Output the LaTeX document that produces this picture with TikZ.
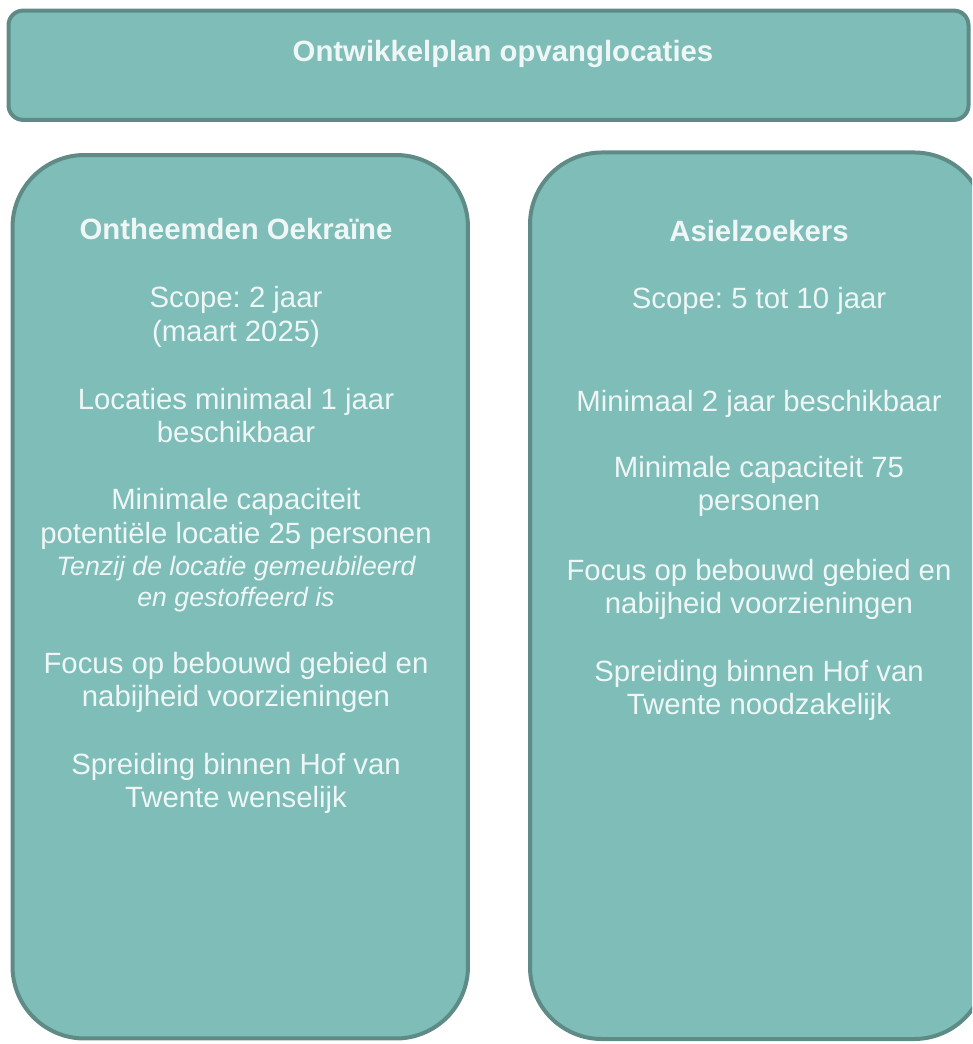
\documentclass[tikz,border=0pt]{standalone}
\usepackage{fontspec}
\setmainfont{Liberation Sans}
\usepackage{tikz}
\usetikzlibrary{positioning}
\frenchspacing
\definecolor{boxfill}{HTML}{7FBDB8}
\definecolor{boxline}{HTML}{5F8B87}
\definecolor{boxtext}{HTML}{EEF7F6}
\tikzset{
    plan box/.style={
        draw=boxline,line width=3pt,
        fill=boxfill,
        inner sep=0pt,outer sep=0pt
    },
    line text/.style={
        text=boxtext,anchor=base,inner sep=0pt,
        font=\fontsize{22}{26}\selectfont
    },
    head text/.style={line text,font=\fontsize{22}{26}\selectfont\bfseries},
    note text/.style={line text,font=\fontsize{20}{24}\selectfont\itshape}
}

\begin{document}
\begin{tikzpicture}[x=0.75pt,y=-0.75pt]
\useasboundingbox (0,0) rectangle (972,1044);
\clip (0,0) rectangle (972,1044);
\fill[white] (0,0) rectangle (972,1044);
\node[plan box,rounded corners=11pt,minimum width=720pt,minimum height=82pt] (plan) at (488.5,65.25) {};
\node[plan box,rounded corners=54pt,minimum width=341.6pt,minimum height=662.6pt] (oekraine) at (240.25,596.75) {};
\node[plan box,rounded corners=54pt,minimum width=342pt,minimum height=664.9pt] (asiel) at (758,595.75) {};
\node[head text] (plan_title) at (503,62) {Ontwikkelplan opvanglocaties};
% linker kolom
\node[head text] (oekraine_title) at (236,240) {Ontheemden Oekraïne};
\foreach \y/\txt [count=\i] in {308/Scope: 2 jaar,341/(maart 2025),409/Locaties minimaal 1 jaar,442/beschikbaar,509/Minimale capaciteit,543/potentiële locatie 25 personen,673/Focus op bebouwd gebied en,706/nabijheid voorzieningen,774/Spreiding binnen Hof van,807/Twente wenselijk}
    \node[line text] (oekraine_\i) at (236,\y) {\txt};
\node[note text] (oekraine_note1) at (236,575) {Tenzij de locatie gemeubileerd};
\node[note text] (oekraine_note2) at (236,606) {en gestoffeerd is};
% rechter kolom
\node[head text] (asiel_title) at (759,242) {Asielzoekers};
\foreach \y/\txt [count=\i] in {309/Scope: 5 tot 10 jaar,411/Minimaal 2 jaar beschikbaar,477/Minimale capaciteit 75,510/personen,580/Focus op bebouwd gebied en,613/nabijheid voorzieningen,681/Spreiding binnen Hof van,714/Twente noodzakelijk}
    \node[line text] (asiel_\i) at (759,\y) {\txt};
\end{tikzpicture}
\end{document}
